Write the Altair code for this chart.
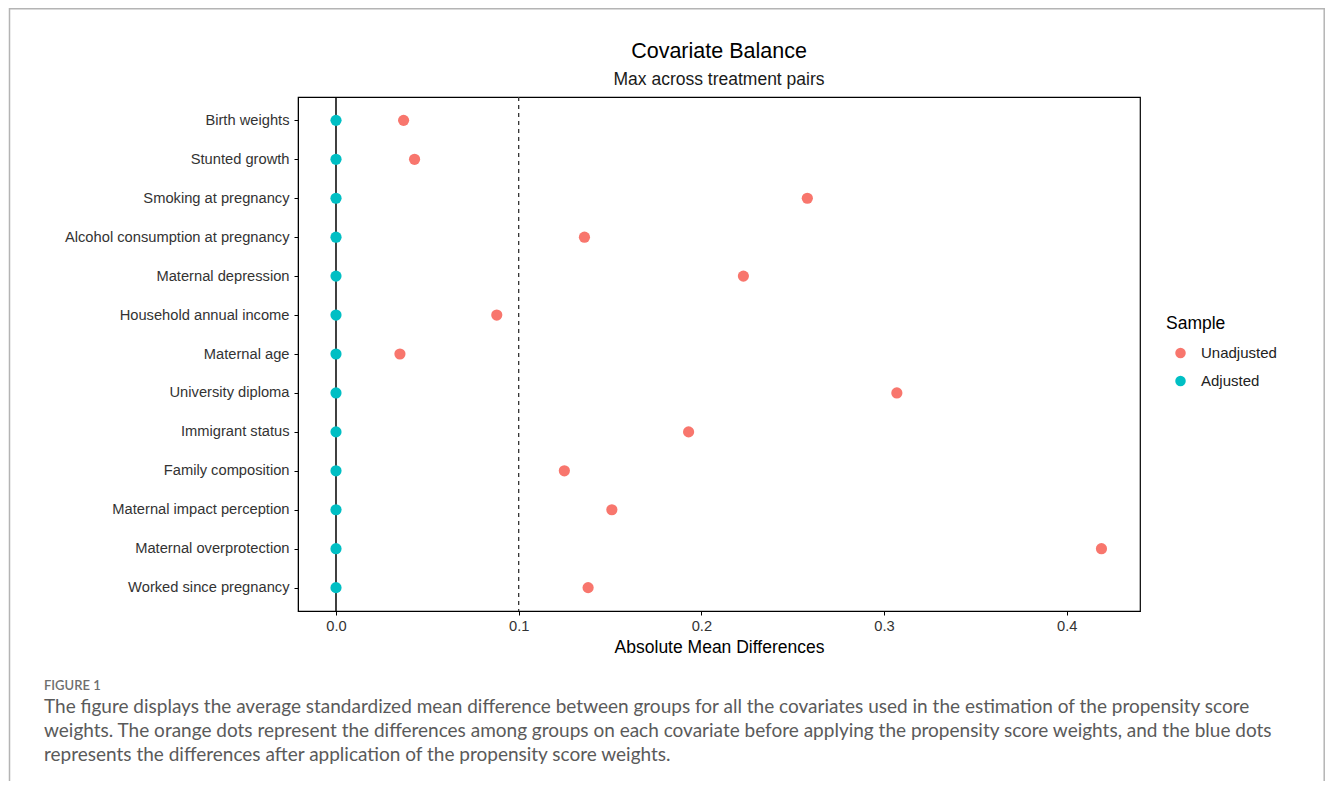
import altair as alt
import pandas as pd

covariates = [
    "Birth weights",
    "Stunted growth",
    "Smoking at pregnancy",
    "Alcohol consumption at pregnancy",
    "Maternal depression",
    "Household annual income",
    "Maternal age",
    "University diploma",
    "Immigrant status",
    "Family composition",
    "Maternal impact perception",
    "Maternal overprotection",
    "Worked since pregnancy",
]
unadjusted = [0.037, 0.043, 0.258, 0.136, 0.223, 0.088, 0.035, 0.307, 0.193, 0.125, 0.151, 0.419, 0.138]
adjusted = [0.0] * 13
samples = ["Unadjusted", "Adjusted"]
sample_colors = ["#F8766D", "#00BFC4"]
x_ticks = [0.0, 0.1, 0.2, 0.3, 0.4]
threshold = 0.1

title_text = "Covariate Balance"
subtitle_text = "Max across treatment pairs"
caption_label = "FIGURE 1"
caption_lines = [
    "The figure displays the average standardized mean difference between groups for all the covariates used in the estimation of the propensity score",
    "weights. The orange dots represent the differences among groups on each covariate before applying the propensity score weights, and the blue dots",
    "represents the differences after application of the propensity score weights.",
]

rows = []
for c, u, a in zip(covariates, unadjusted, adjusted):
    rows.append({"covariate": c, "Sample": "Unadjusted", "value": u})
    rows.append({"covariate": c, "Sample": "Adjusted", "value": a})
df = pd.DataFrame(rows)

W, H = 842, 514
PAD_L, PAD_T = 290, 89
TOTAL_W, TOTAL_H = 1317, 773
PAD_R = TOTAL_W - PAD_L - W
PAD_B = TOTAL_H - PAD_T - H

xscale = alt.Scale(domain=[-0.0208, 0.4401], nice=False, zero=False)
yscale = alt.Scale(type="point", padding=0.6)

zero_line = alt.Chart(alt.Data(values=[{"v": 0.0}])).mark_rule(
    color="black", strokeWidth=1.5
).encode(x=alt.X("v:Q", scale=xscale))

thr_line = alt.Chart(alt.Data(values=[{"v": threshold}])).mark_rule(
    color="#333333", strokeWidth=1.3, strokeDash=[4, 4]
).encode(x=alt.X("v:Q", scale=xscale))

points = alt.Chart(df).mark_circle(size=125, opacity=1).encode(
    x=alt.X(
        "value:Q",
        scale=xscale,
        axis=alt.Axis(
            title="Absolute Mean Differences",
            values=x_ticks,
            format=".1f",
            grid=False,
        ),
    ),
    y=alt.Y(
        "covariate:N",
        sort=covariates,
        scale=yscale,
        axis=alt.Axis(title=None, grid=False, labelLimit=400),
    ),
    color=alt.Color(
        "Sample:N",
        scale=alt.Scale(domain=samples, range=sample_colors),
        legend=alt.Legend(
            title="Sample",
            orient="none",
            legendX=868,
            legendY=218,
            symbolType="circle",
            symbolSize=110,
            symbolOffset=7,
            labelOffset=13,
            rowPadding=12,
            titlePadding=13,
        ),
    ),
)

def ann():
    return alt.Chart(alt.Data(values=[{"k": 1}]))

title_mark = ann().mark_text(
    align="center", baseline="middle", font="Liberation Sans", fontSize=21.5, color="black"
).encode(x=alt.value(W / 2), y=alt.value(-45), text=alt.value(title_text))

subtitle_mark = ann().mark_text(
    align="center", baseline="middle", font="Liberation Sans", fontSize=17.5, color="#1a1a1a"
).encode(x=alt.value(W / 2), y=alt.value(-17), text=alt.value(subtitle_text))

caption_head = ann().mark_text(
    align="left", baseline="middle", font="Lato", fontSize=13, fontWeight=600, color="#6e6e6e"
).encode(x=alt.value(-254), y=alt.value(589), text=alt.value(caption_label))

caption_body = ann().mark_text(
    align="left", baseline="middle", font="Lato", fontSize=19, color="#5a5a5a",
    lineHeight=24,
).encode(x=alt.value(-254), y=alt.value(610), text=alt.value(caption_lines))

border_col = "#b4b4b4"
border_left = ann().mark_rule(color=border_col, strokeWidth=1.5).encode(
    x=alt.value(-288.5), y=alt.value(-89), y2=alt.value(H + PAD_B)
)
border_right = ann().mark_rule(color=border_col, strokeWidth=1.5).encode(
    x=alt.value(W + PAD_R - 0.8), y=alt.value(-89), y2=alt.value(H + PAD_B)
)
border_top = ann().mark_rule(color=border_col, strokeWidth=1.5).encode(
    x=alt.value(-289), x2=alt.value(W + PAD_R), y=alt.value(-88.3)
)

chart = alt.layer(
    zero_line, thr_line, points, title_mark, subtitle_mark, caption_head, caption_body,
    border_left, border_right, border_top,
).properties(
    width=W,
    height=H,
    background="white",
    autosize=alt.AutoSizeParams(type="none"),
    padding={"left": PAD_L, "top": PAD_T, "right": PAD_R, "bottom": PAD_B},
).configure_view(
    stroke="black", strokeWidth=1.2
).configure_axis(
    domainColor="black",
    tickColor="black",
    tickSize=4,
    labelFont="Liberation Sans",
    labelFontSize=14.7,
    labelColor="#333333",
    labelPadding=5,
    titleFont="Liberation Sans",
    titleFontSize=17.5,
    titleFontWeight="normal",
    titleColor="black",
    titlePadding=7,
).configure_axisX(
    labelPadding=3,
    titlePadding=6,
).configure_legend(
    titleFont="Liberation Sans",
    titleFontSize=17.5,
    titleFontWeight="normal",
    titleColor="black",
    labelFont="Liberation Sans",
    labelFontSize=15,
    labelColor="#222222",
)

chart.save("out.html", embed_options={"renderer": "svg", "actions": False})
